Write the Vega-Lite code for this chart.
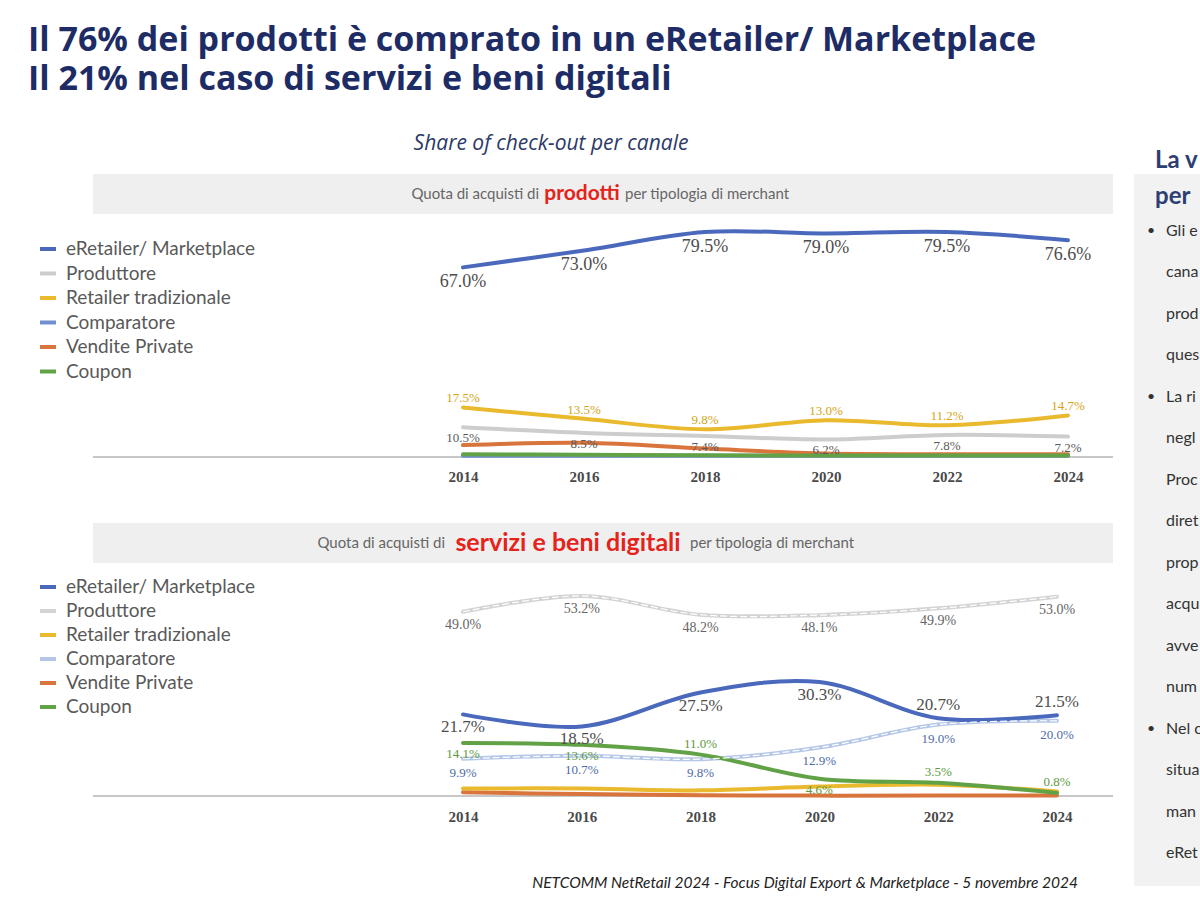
{
  "$schema": "https://vega.github.io/schema/vega-lite/v6.json",
  "background": "white",
  "padding": {"left": 28, "top": 24, "right": 0, "bottom": 0},
  "title": {
    "text": ["Il 76% dei prodotti è comprato in un eRetailer/ Marketplace", "Il 21% nel caso di servizi e beni digitali"],
    "anchor": "start", "dx": -10, "font": "Open Sans", "fontSize": 34, "fontWeight": 700,
    "color": "#1e2c66", "lineHeight": 39, "offset": 36
  },
  "datasets": {
    "prodotti": [
      {"canale": "Comparatore", "anno": 2014, "quota": 0.004},
      {"canale": "Comparatore", "anno": 2016, "quota": 0.004},
      {"canale": "Comparatore", "anno": 2018, "quota": 0.004},
      {"canale": "Comparatore", "anno": 2020, "quota": 0.004},
      {"canale": "Comparatore", "anno": 2022, "quota": 0.004},
      {"canale": "Comparatore", "anno": 2024, "quota": 0.004},
      {"canale": "Vendite Private", "anno": 2014, "quota": 0.042},
      {"canale": "Vendite Private", "anno": 2016, "quota": 0.05},
      {"canale": "Vendite Private", "anno": 2018, "quota": 0.03},
      {"canale": "Vendite Private", "anno": 2020, "quota": 0.012},
      {"canale": "Vendite Private", "anno": 2022, "quota": 0.01},
      {"canale": "Vendite Private", "anno": 2024, "quota": 0.01},
      {"canale": "Coupon", "anno": 2014, "quota": 0.01},
      {"canale": "Coupon", "anno": 2016, "quota": 0.008},
      {"canale": "Coupon", "anno": 2018, "quota": 0.006},
      {"canale": "Coupon", "anno": 2020, "quota": 0.005},
      {"canale": "Coupon", "anno": 2022, "quota": 0.005},
      {"canale": "Coupon", "anno": 2024, "quota": 0.005},
      {"canale": "Produttore", "anno": 2014, "quota": 0.105},
      {"canale": "Produttore", "anno": 2016, "quota": 0.085},
      {"canale": "Produttore", "anno": 2018, "quota": 0.074},
      {"canale": "Produttore", "anno": 2020, "quota": 0.062},
      {"canale": "Produttore", "anno": 2022, "quota": 0.078},
      {"canale": "Produttore", "anno": 2024, "quota": 0.072},
      {"canale": "Retailer tradizionale", "anno": 2014, "quota": 0.175},
      {"canale": "Retailer tradizionale", "anno": 2016, "quota": 0.135},
      {"canale": "Retailer tradizionale", "anno": 2018, "quota": 0.098},
      {"canale": "Retailer tradizionale", "anno": 2020, "quota": 0.13},
      {"canale": "Retailer tradizionale", "anno": 2022, "quota": 0.112},
      {"canale": "Retailer tradizionale", "anno": 2024, "quota": 0.147},
      {"canale": "eRetailer/ Marketplace", "anno": 2014, "quota": 0.67},
      {"canale": "eRetailer/ Marketplace", "anno": 2016, "quota": 0.73},
      {"canale": "eRetailer/ Marketplace", "anno": 2018, "quota": 0.795},
      {"canale": "eRetailer/ Marketplace", "anno": 2020, "quota": 0.79},
      {"canale": "eRetailer/ Marketplace", "anno": 2022, "quota": 0.795},
      {"canale": "eRetailer/ Marketplace", "anno": 2024, "quota": 0.766}
    ],
    "servizi": [
      {"canale": "Vendite Private", "anno": 2014, "quota": 0.01},
      {"canale": "Vendite Private", "anno": 2016, "quota": 0.005},
      {"canale": "Vendite Private", "anno": 2018, "quota": 0.002},
      {"canale": "Vendite Private", "anno": 2020, "quota": 0.001},
      {"canale": "Vendite Private", "anno": 2022, "quota": 0.001},
      {"canale": "Vendite Private", "anno": 2024, "quota": 0.001},
      {"canale": "Retailer tradizionale", "anno": 2014, "quota": 0.02},
      {"canale": "Retailer tradizionale", "anno": 2016, "quota": 0.02},
      {"canale": "Retailer tradizionale", "anno": 2018, "quota": 0.015},
      {"canale": "Retailer tradizionale", "anno": 2020, "quota": 0.025},
      {"canale": "Retailer tradizionale", "anno": 2022, "quota": 0.03},
      {"canale": "Retailer tradizionale", "anno": 2024, "quota": 0.012},
      {"canale": "Comparatore", "anno": 2014, "quota": 0.099},
      {"canale": "Comparatore", "anno": 2016, "quota": 0.107},
      {"canale": "Comparatore", "anno": 2018, "quota": 0.098},
      {"canale": "Comparatore", "anno": 2020, "quota": 0.129},
      {"canale": "Comparatore", "anno": 2022, "quota": 0.19},
      {"canale": "Comparatore", "anno": 2024, "quota": 0.2},
      {"canale": "Coupon", "anno": 2014, "quota": 0.141},
      {"canale": "Coupon", "anno": 2016, "quota": 0.136},
      {"canale": "Coupon", "anno": 2018, "quota": 0.11},
      {"canale": "Coupon", "anno": 2020, "quota": 0.046},
      {"canale": "Coupon", "anno": 2022, "quota": 0.035},
      {"canale": "Coupon", "anno": 2024, "quota": 0.008},
      {"canale": "Produttore", "anno": 2014, "quota": 0.49},
      {"canale": "Produttore", "anno": 2016, "quota": 0.532},
      {"canale": "Produttore", "anno": 2018, "quota": 0.482},
      {"canale": "Produttore", "anno": 2020, "quota": 0.481},
      {"canale": "Produttore", "anno": 2022, "quota": 0.499},
      {"canale": "Produttore", "anno": 2024, "quota": 0.53},
      {"canale": "eRetailer/ Marketplace", "anno": 2014, "quota": 0.217},
      {"canale": "eRetailer/ Marketplace", "anno": 2016, "quota": 0.185},
      {"canale": "eRetailer/ Marketplace", "anno": 2018, "quota": 0.275},
      {"canale": "eRetailer/ Marketplace", "anno": 2020, "quota": 0.303},
      {"canale": "eRetailer/ Marketplace", "anno": 2022, "quota": 0.207},
      {"canale": "eRetailer/ Marketplace", "anno": 2024, "quota": 0.215}
    ],
    "testo": [
      {"riga": 1, "testo": "Gli e", "punto": true},
      {"riga": 2, "testo": "cana", "punto": false},
      {"riga": 3, "testo": "prod", "punto": false},
      {"riga": 4, "testo": "ques", "punto": false},
      {"riga": 5, "testo": "La ri", "punto": true},
      {"riga": 6, "testo": "negl", "punto": false},
      {"riga": 7, "testo": "Proc", "punto": false},
      {"riga": 8, "testo": "diret", "punto": false},
      {"riga": 9, "testo": "prop", "punto": false},
      {"riga": 10, "testo": "acqu", "punto": false},
      {"riga": 11, "testo": "avve", "punto": false},
      {"riga": 12, "testo": "num", "punto": false},
      {"riga": 13, "testo": "Nel c", "punto": true},
      {"riga": 14, "testo": "situa", "punto": false},
      {"riga": 15, "testo": "man", "punto": false},
      {"riga": 16, "testo": "eRet", "punto": false}
    ]
  },
  "spacing": 20,
  "hconcat": [
    {
      "spacing": 39,
      "resolve": {
        "scale": {"color": "independent", "x": "independent", "y": "independent"},
        "legend": {"color": "independent"}
      },
      "vconcat": [
        {
          "width": 1020,
          "height": 283,
          "title": {
            "text": "Share of check-out per canale", "frame": "group", "anchor": "middle", "dx": -52,
            "font": "Open Sans", "fontStyle": "italic", "fontWeight": 400, "fontSize": 21,
            "color": "#2b3a67", "offset": 20
          },
          "data": {"name": "prodotti"},
          "layer": [
            {
              "transform": [{"aggregate": [{"op": "count", "as": "n"}]}],
              "mark": {"type": "rect", "color": "#efefef"},
              "encoding": {
                "y": {"datum": 1.0, "type": "quantitative", "axis": null},
                "y2": {"datum": 0.8587}
              }
            },
            {
              "transform": [{"aggregate": [{"op": "count", "as": "n"}]}],
              "mark": {"type": "text", "align": "right", "baseline": "middle", "dx": -64, "font": "Lato", "fontSize": 15, "color": "#666666"},
              "encoding": {
                "y": {"datum": 0.9293, "type": "quantitative", "axis": null},
                "text": {"value": "Quota di acquisti di"}
              }
            },
            {
              "transform": [{"aggregate": [{"op": "count", "as": "n"}]}],
              "mark": {"type": "text", "align": "center", "baseline": "middle", "dx": -21, "font": "Lato", "fontSize": 21, "fontWeight": "bold", "color": "#e5231b"},
              "encoding": {
                "y": {"datum": 0.9293, "type": "quantitative", "axis": null},
                "text": {"value": "prodotti"}
              }
            },
            {
              "transform": [{"aggregate": [{"op": "count", "as": "n"}]}],
              "mark": {"type": "text", "align": "left", "baseline": "middle", "dx": 22, "font": "Lato", "fontSize": 15, "color": "#666666"},
              "encoding": {
                "y": {"datum": 0.9293, "type": "quantitative", "axis": null},
                "text": {"value": "per tipologia di merchant"}
              }
            },
            {
              "transform": [{"aggregate": [{"op": "count", "as": "n"}]}],
              "mark": {"type": "rule", "color": "#b5b5b5", "strokeWidth": 1.5},
              "encoding": {
                "y": {"datum": 0, "type": "quantitative", "axis": null}
              }
            },
            {
              "mark": {"type": "line", "interpolate": "catmull-rom", "strokeWidth": 4, "strokeCap": "round"},
              "encoding": {
                "x": {
                  "field": "anno", "type": "quantitative",
                  "scale": {"domain": [2007.884, 2024.744], "nice": false, "zero": false},
                  "axis": {
                    "values": [2014, 2016, 2018, 2020, 2022, 2024], "format": "d", "title": null,
                    "domain": false, "ticks": false, "grid": false, "labelPadding": 12,
                    "labelFont": "Liberation Serif", "labelFontSize": 15, "labelFontWeight": "bold", "labelColor": "#4a4a4a"
                  }
                },
                "y": {"field": "quota", "type": "quantitative", "scale": {"domain": [0, 1], "nice": false}, "axis": null},
                "color": {
                  "field": "canale", "type": "nominal",
                  "scale": {
                    "domain": ["eRetailer/ Marketplace", "Produttore", "Retailer tradizionale", "Comparatore", "Vendite Private", "Coupon"],
                    "range": ["#4a69bd", "#cdcdcd", "#e9b92e", "#6f8fd0", "#d8743c", "#62a247"]
                  },
                  "legend": {
                    "title": null, "orient": "none", "legendX": -55, "legendY": 65,
                    "symbolType": "stroke", "symbolStrokeWidth": 4, "symbolSize": 256, "labelLimit": 400,
                    "labelFont": "Lato", "labelFontSize": 19, "labelColor": "#595959", "labelOffset": 8, "rowPadding": 4.5
                  }
                }
              }
            },
            {
              "transform": [{"filter": "datum.canale == 'eRetailer/ Marketplace'"}],
              "mark": {"type": "text", "baseline": "middle", "dy": 15, "font": "Liberation Serif", "fontSize": 18, "color": "#4d4d4d"},
              "encoding": {
                "x": {"field": "anno", "type": "quantitative"},
                "y": {"field": "quota", "type": "quantitative"},
                "text": {"field": "quota", "type": "quantitative", "format": ".1%"}
              }
            },
            {
              "transform": [{"filter": "datum.canale == 'Retailer tradizionale'"}],
              "mark": {"type": "text", "baseline": "middle", "dy": -9, "font": "Liberation Serif", "fontSize": 13, "color": "#d4a514"},
              "encoding": {
                "x": {"field": "anno", "type": "quantitative"},
                "y": {"field": "quota", "type": "quantitative"},
                "text": {"field": "quota", "type": "quantitative", "format": ".1%"}
              }
            },
            {
              "transform": [{"filter": "datum.canale == 'Produttore'"}],
              "mark": {"type": "text", "baseline": "middle", "dy": 11, "font": "Liberation Serif", "fontSize": 13, "color": "#5a5a5a"},
              "encoding": {
                "x": {"field": "anno", "type": "quantitative"},
                "y": {"field": "quota", "type": "quantitative"},
                "text": {"field": "quota", "type": "quantitative", "format": ".1%"}
              }
            }
          ]
        },
        {
          "width": 1020,
          "height": 273,
          "title": {
            "text": "NETCOMM NetRetail 2024 - Focus Digital Export & Marketplace - 5 novembre 2024",
            "orient": "bottom", "frame": "group", "anchor": "end", "dx": -35, "offset": 52,
            "font": "Lato", "fontStyle": "italic", "fontWeight": 400, "fontSize": 15.5, "color": "#222222"
          },
          "data": {"name": "servizi"},
          "layer": [
            {
              "transform": [{"aggregate": [{"op": "count", "as": "n"}]}],
              "mark": {"type": "rect", "color": "#efefef"},
              "encoding": {
                "y": {"datum": 0.726, "type": "quantitative", "axis": null},
                "y2": {"datum": 0.6196}
              }
            },
            {
              "transform": [{"aggregate": [{"op": "count", "as": "n"}]}],
              "mark": {"type": "text", "align": "right", "baseline": "middle", "dx": -158, "font": "Lato", "fontSize": 15, "color": "#666666"},
              "encoding": {
                "y": {"datum": 0.6728, "type": "quantitative", "axis": null},
                "text": {"value": "Quota di acquisti di"}
              }
            },
            {
              "transform": [{"aggregate": [{"op": "count", "as": "n"}]}],
              "mark": {"type": "text", "align": "center", "baseline": "middle", "dx": -35, "font": "Lato", "fontSize": 25, "fontWeight": "bold", "color": "#e5231b"},
              "encoding": {
                "y": {"datum": 0.6728, "type": "quantitative", "axis": null},
                "text": {"value": "servizi e beni digitali"}
              }
            },
            {
              "transform": [{"aggregate": [{"op": "count", "as": "n"}]}],
              "mark": {"type": "text", "align": "left", "baseline": "middle", "dx": 87, "font": "Lato", "fontSize": 15, "color": "#666666"},
              "encoding": {
                "y": {"datum": 0.6728, "type": "quantitative", "axis": null},
                "text": {"value": "per tipologia di merchant"}
              }
            },
            {
              "transform": [{"aggregate": [{"op": "count", "as": "n"}]}],
              "mark": {"type": "rule", "color": "#b5b5b5", "strokeWidth": 1.5},
              "encoding": {
                "y": {"datum": 0, "type": "quantitative", "axis": null}
              }
            },
            {
              "mark": {"type": "line", "interpolate": "catmull-rom", "strokeWidth": 4, "strokeCap": "round"},
              "encoding": {
                "x": {
                  "field": "anno", "type": "quantitative",
                  "scale": {"domain": [2007.771, 2024.943], "nice": false, "zero": false},
                  "axis": {
                    "values": [2014, 2016, 2018, 2020, 2022, 2024], "format": "d", "title": null,
                    "domain": false, "ticks": false, "grid": false, "labelPadding": 13,
                    "labelFont": "Liberation Serif", "labelFontSize": 15, "labelFontWeight": "bold", "labelColor": "#4a4a4a"
                  }
                },
                "y": {"field": "quota", "type": "quantitative", "scale": {"domain": [0, 0.726], "nice": false}, "axis": null},
                "color": {
                  "field": "canale", "type": "nominal",
                  "scale": {
                    "domain": ["eRetailer/ Marketplace", "Produttore", "Retailer tradizionale", "Comparatore", "Vendite Private", "Coupon"],
                    "range": ["#4a69bd", "#d3d3d3", "#e9b92e", "#b4c7e7", "#d8743c", "#62a247"]
                  },
                  "legend": {
                    "title": null, "orient": "none", "legendX": -55, "legendY": 54,
                    "symbolType": "stroke", "symbolStrokeWidth": 4, "symbolSize": 256, "labelLimit": 400,
                    "labelFont": "Lato", "labelFontSize": 19, "labelColor": "#595959", "labelOffset": 8, "rowPadding": 4
                  }
                }
              }
            },
            {
              "transform": [{"filter": "datum.canale == 'Produttore' || datum.canale == 'Comparatore'"}],
              "mark": {"type": "line", "interpolate": "catmull-rom", "strokeWidth": 1.2, "strokeDash": [7, 3], "color": "#ffffff"},
              "encoding": {
                "x": {"field": "anno", "type": "quantitative"},
                "y": {"field": "quota", "type": "quantitative"},
                "detail": {"field": "canale", "type": "nominal"}
              }
            },
            {
              "transform": [{"filter": "datum.canale == 'eRetailer/ Marketplace' && datum.anno < 2022"}],
              "mark": {"type": "text", "baseline": "middle", "dy": 13, "font": "Liberation Serif", "fontSize": 17, "color": "#4d4d4d"},
              "encoding": {
                "x": {"field": "anno", "type": "quantitative"},
                "y": {"field": "quota", "type": "quantitative"},
                "text": {"field": "quota", "type": "quantitative", "format": ".1%"}
              }
            },
            {
              "transform": [{"filter": "datum.canale == 'eRetailer/ Marketplace' && datum.anno >= 2022"}],
              "mark": {"type": "text", "baseline": "middle", "dy": -13, "font": "Liberation Serif", "fontSize": 17, "color": "#4d4d4d"},
              "encoding": {
                "x": {"field": "anno", "type": "quantitative"},
                "y": {"field": "quota", "type": "quantitative"},
                "text": {"field": "quota", "type": "quantitative", "format": ".1%"}
              }
            },
            {
              "transform": [{"filter": "datum.canale == 'Produttore'"}],
              "mark": {"type": "text", "baseline": "middle", "dy": 13, "font": "Liberation Serif", "fontSize": 14, "color": "#666666"},
              "encoding": {
                "x": {"field": "anno", "type": "quantitative"},
                "y": {"field": "quota", "type": "quantitative"},
                "text": {"field": "quota", "type": "quantitative", "format": ".1%"}
              }
            },
            {
              "transform": [{"filter": "datum.canale == 'Coupon' && (datum.anno == 2014 || datum.anno == 2016 || datum.anno == 2020)"}],
              "mark": {"type": "text", "baseline": "middle", "dy": 11, "font": "Liberation Serif", "fontSize": 13, "color": "#5e9a3e"},
              "encoding": {
                "x": {"field": "anno", "type": "quantitative"},
                "y": {"field": "quota", "type": "quantitative"},
                "text": {"field": "quota", "type": "quantitative", "format": ".1%"}
              }
            },
            {
              "transform": [{"filter": "datum.canale == 'Coupon' && (datum.anno == 2018 || datum.anno == 2022 || datum.anno == 2024)"}],
              "mark": {"type": "text", "baseline": "middle", "dy": -11, "font": "Liberation Serif", "fontSize": 13, "color": "#5e9a3e"},
              "encoding": {
                "x": {"field": "anno", "type": "quantitative"},
                "y": {"field": "quota", "type": "quantitative"},
                "text": {"field": "quota", "type": "quantitative", "format": ".1%"}
              }
            },
            {
              "transform": [{"filter": "datum.canale == 'Comparatore'"}],
              "mark": {"type": "text", "baseline": "middle", "dy": 14, "font": "Liberation Serif", "fontSize": 13, "color": "#4e6aa8"},
              "encoding": {
                "x": {"field": "anno", "type": "quantitative"},
                "y": {"field": "quota", "type": "quantitative"},
                "text": {"field": "quota", "type": "quantitative", "format": ".1%"}
              }
            }
          ]
        }
      ]
    },
    {
      "width": 67,
      "height": 712,
      "view": {"fill": "#f2f2f2", "stroke": null},
      "title": {
        "text": " ", "fontSize": 12, "frame": "group", "anchor": "start", "dx": 21, "offset": -36,
        "subtitle": ["La v", "per"], "subtitleFont": "Lato", "subtitleFontSize": 24, "subtitleFontWeight": 700,
        "subtitleColor": "#2d3e73", "subtitleLineHeight": 36, "subtitlePadding": 2
      },
      "data": {"name": "testo"},
      "layer": [
        {
          "mark": {"type": "text", "align": "left", "baseline": "middle", "dx": -1.5, "font": "Lato", "fontSize": 16, "color": "#333333", "clip": true},
          "encoding": {
            "y": {"field": "riga", "type": "quantitative", "scale": {"domain": [1, 16], "range": [57, 679], "zero": false, "nice": false}, "axis": null},
            "text": {"field": "testo", "type": "nominal"}
          }
        },
        {
          "transform": [{"filter": "datum.punto"}],
          "mark": {"type": "text", "align": "center", "baseline": "middle", "dx": -16.5, "font": "Lato", "fontSize": 14, "color": "#333333", "clip": true},
          "encoding": {
            "y": {"field": "riga", "type": "quantitative"},
            "text": {"value": "•"}
          }
        }
      ]
    }
  ],
  "config": {
    "view": {"stroke": null},
    "font": "Lato"
  }
}
